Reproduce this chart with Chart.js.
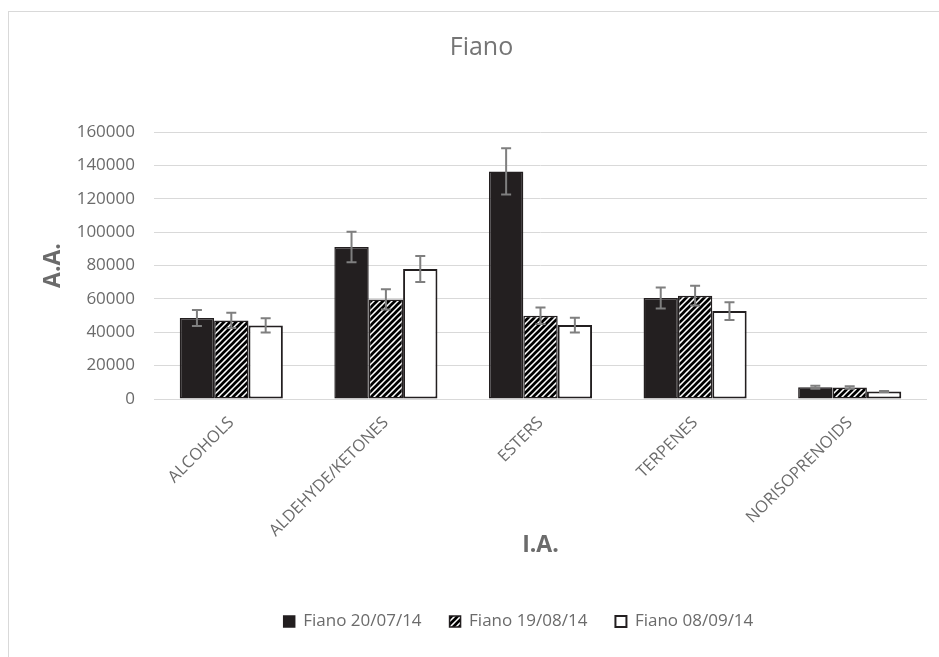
<!DOCTYPE html>
<html>
<head>
<meta charset="utf-8">
<script src="https://cdn.jsdelivr.net/npm/chart.js@4/dist/chart.umd.min.js"></script>
<style>
  html, body { margin: 0; padding: 0; background: #fff; }
  #wrap { position: relative; width: 939px; height: 657px; overflow: hidden; }
  #frame { position: absolute; left: 8px; top: 11px; width: 1200px; height: 1200px; border: 1px solid #d9d9d9; box-sizing: border-box; }
  #c { position: absolute; left: 0; top: 0; }
</style>
</head>
<body>
<div id="wrap">
  <div id="frame"></div>
  <canvas id="c" width="939" height="657"></canvas>
</div>
<script>
const categories = ['ALCOHOLS', 'ALDEHYDE/KETONES', 'ESTERS', 'TERPENES', 'NORISOPRENOIDS'];
const seriesNames = ['Fiano 20/07/14', 'Fiano 19/08/14', 'Fiano 08/09/14'];
const fiano2007 = [48500, 91100, 136400, 60500, 7100];
const fiano1908 = [47100, 59700, 49900, 61900, 6900];
const fiano0809 = [44100, 77900, 44300, 52700, 4500];
const err2007 = [4800, 9100, 13800, 6300, 900];
const err1908 = [4600, 6000, 4900, 5900, 800];
const err0809 = [4300, 7800, 4400, 5300, 300];
const yTicks = [0, 20000, 40000, 60000, 80000, 100000, 120000, 140000, 160000];

function hatch() {
  const t = document.createElement('canvas');
  t.width = 6; t.height = 6;
  const g = t.getContext('2d');
  g.fillStyle = '#ffffff';
  g.fillRect(0, 0, 6, 6);
  g.strokeStyle = '#000000';
  g.lineWidth = 2.7;
  g.beginPath();
  g.moveTo(-1, 7); g.lineTo(7, -1);
  g.moveTo(-4, 4); g.lineTo(4, -4);
  g.moveTo(2, 10); g.lineTo(10, 2);
  g.stroke();
  return document.getElementById('c').getContext('2d').createPattern(t, 'repeat');
}

const errs = [err2007, err1908, err0809];
const errorBars = {
  id: 'errorBars',
  afterDatasetsDraw(chart) {
    const ctx = chart.ctx;
    const y = chart.scales.y;
    ctx.save();
    ctx.strokeStyle = '#7f7f7f';
    ctx.lineWidth = 2;
    chart.data.datasets.forEach((ds, di) => {
      const meta = chart.getDatasetMeta(di);
      meta.data.forEach((bar, i) => {
        const v = ds.data[i], e = errs[di][i];
        const x = bar.x;
        const yt = y.getPixelForValue(v + e);
        const yb = y.getPixelForValue(v - e);
        ctx.beginPath();
        ctx.moveTo(x, yt); ctx.lineTo(x, yb);
        ctx.moveTo(x - 5, yt); ctx.lineTo(x + 5, yt);
        ctx.moveTo(x - 5, yb); ctx.lineTo(x + 5, yb);
        ctx.stroke();
      });
    });
    ctx.restore();
  }
};

const legendShift = {
  id: 'legendShift',
  afterLayout(chart) {
    const lg = chart.legend;
    if (lg) { lg.left += 37; lg.right += 37; }
  }
};

const FONT = "'Open Sans', 'DejaVu Sans', sans-serif";
const TXT = '#6b6b6b';

new Chart(document.getElementById('c'), {
  type: 'bar',
  data: {
    labels: categories,
    datasets: [
      { label: seriesNames[0], data: fiano2007, backgroundColor: '#231f20', borderColor: '#231f20', borderWidth: 1.5, borderSkipped: false },
      { label: seriesNames[1], data: fiano1908, backgroundColor: hatch(), borderColor: '#231f20', borderWidth: 1.5, borderSkipped: false },
      { label: seriesNames[2], data: fiano0809, backgroundColor: '#ffffff', borderColor: '#231f20', borderWidth: 2, borderSkipped: false }
    ]
  },
  plugins: [errorBars, legendShift],
  options: {
    responsive: false,
    animation: false,
    layout: { padding: { left: 36, right: 12, top: 11, bottom: 17 } },
    datasets: { bar: { categoryPercentage: 0.667, barPercentage: 1.0 } },
    plugins: {
      title: {
        display: true, text: 'Fiano', color: '#757575',
        font: { family: FONT, size: 25, weight: 'normal' },
        padding: { top: 22, bottom: 69 }
      },
      legend: {
        position: 'bottom',
        labels: {
          color: TXT, font: { family: FONT, size: 17 },
          boxWidth: 11, boxHeight: 11, padding: 28
        }
      },
      tooltip: { enabled: false }
    },
    scales: {
      x: {
        grid: { display: false },
        border: { display: false },
        ticks: { color: TXT, font: { family: FONT, size: 16.5 }, maxRotation: 45, minRotation: 45, padding: 6 },
        title: { display: true, text: 'I.A.', color: '#6b6b6b', font: { family: FONT, size: 23, weight: 'bold' }, padding: { top: 0, bottom: 26 } },
        afterFit(s) { s.height = 186; }
      },
      y: {
        min: 0, max: 160000,
        afterBuildTicks(s) { s.ticks = yTicks.map(v => ({ value: v })); },
        grid: { color: '#d9d9d9', lineWidth: 1, drawTicks: false },
        border: { display: false },
        ticks: { color: TXT, font: { family: FONT, size: 17 }, padding: 19, callback: (v) => String(v) },
        title: { display: true, text: 'A.A.', color: '#6b6b6b', font: { family: FONT, size: 23, weight: 'bold' }, padding: { top: 4, bottom: 4 } },
        afterFit(s) { s.width = 118; }
      }
    }
  }
});
</script>
</body>
</html>
